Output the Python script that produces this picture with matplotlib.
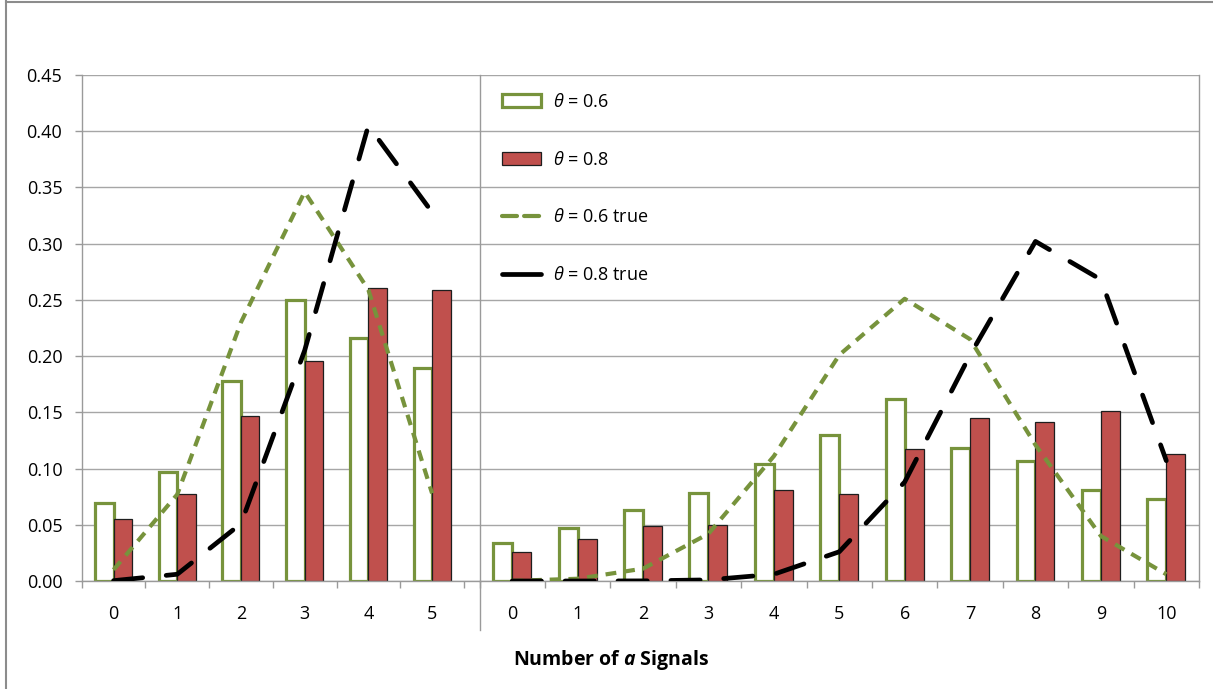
import matplotlib
matplotlib.use("Agg")
import matplotlib.pyplot as plt
from matplotlib.lines import Line2D
import numpy as np

plt.rcParams['font.family'] = ['Open Sans', 'DejaVu Sans']
plt.rcParams['mathtext.fontset'] = 'custom'
plt.rcParams['mathtext.rm'] = 'Open Sans'
plt.rcParams['mathtext.it'] = 'Open Sans:italic'
plt.rcParams['mathtext.bf'] = 'Open Sans:bold'
plt.rcParams['mathtext.bfit'] = 'Open Sans:bold:italic'

# ---- data -------------------------------------------------------------
signals_n5 = [0, 1, 2, 3, 4, 5]
signals_n10 = [0, 1, 2, 3, 4, 5, 6, 7, 8, 9, 10]

est_06_n5 = [0.069, 0.097, 0.178, 0.250, 0.216, 0.189]
est_08_n5 = [0.055, 0.077, 0.147, 0.196, 0.261, 0.259]
true_06_n5 = [0.010, 0.077, 0.230, 0.346, 0.259, 0.078]
true_08_n5 = [0.0003, 0.006, 0.051, 0.205, 0.405, 0.328]

est_06_n10 = [0.034, 0.047, 0.063, 0.078, 0.104, 0.130, 0.162, 0.118, 0.107, 0.081, 0.073]
est_08_n10 = [0.026, 0.037, 0.049, 0.050, 0.081, 0.077, 0.117, 0.145, 0.141, 0.151, 0.113]
true_06_n10 = [0.0001, 0.002, 0.011, 0.042, 0.111, 0.201, 0.251, 0.215, 0.121, 0.040, 0.006]
true_08_n10 = [0.0000, 0.0000, 0.0001, 0.001, 0.006, 0.026, 0.088, 0.201, 0.302, 0.268, 0.107]

y_ticks = [0.00, 0.05, 0.10, 0.15, 0.20, 0.25, 0.30, 0.35, 0.40, 0.45]

labels = [r"$\theta$ = 0.6", r"$\theta$ = 0.8",
          r"$\theta$ = 0.6 true", r"$\theta$ = 0.8 true"]
x_title = r"Number of $\mathbfit{a}$ Signals"

# ---- style --------------------------------------------------------------
GREEN = "#77933C"
RED = "#C0504D"
GRID = "#A6A6A6"
AXIS = "#9A9A9A"
FS = 13

W, H = 1213, 689
fig = plt.figure(figsize=(W / 100, H / 100), dpi=100)

x0, xsep, x1 = 81.7, 479.5, 1199.0
ybot, ytop = 581.0, 75.0
cat_w1 = 63.7

ax1 = fig.add_axes([x0 / W, (H - ybot) / H, (xsep - x0) / W, (ybot - ytop) / H])
ax2 = fig.add_axes([xsep / W, (H - ybot) / H, (x1 - xsep) / W, (ybot - ytop) / H])

bw = 0.29


def draw_group(ax, cats, est06, est08, tr06, tr08):
    cats = np.asarray(cats, dtype=float)
    b1 = ax.bar(cats - bw / 2, est06, width=bw, facecolor="white",
                edgecolor=GREEN, linewidth=2.3, zorder=2)
    b2 = ax.bar(cats + bw / 2, est08, width=bw, facecolor=RED,
                edgecolor="#1E1E1E", linewidth=0.9, zorder=2)
    l1, = ax.plot(cats, tr06, color=GREEN, lw=3.0, ls=(0, (2.6, 1.9)),
                  dash_capstyle="butt", zorder=3)
    l2, = ax.plot(cats, tr08, color="black", lw=3.4, ls=(0, (6.2, 5.0)),
                  dash_capstyle="round", solid_capstyle="round", zorder=4)
    return b1, b2, l1, l2


h = draw_group(ax1, signals_n5, est_06_n5, est_08_n5, true_06_n5, true_08_n5)
draw_group(ax2, signals_n10, est_06_n10, est_08_n10, true_06_n10, true_08_n10)

ax1.set_xlim(-0.5, -0.5 + (xsep - x0) / cat_w1)
ax2.set_xlim(-0.5, len(signals_n10) - 0.5)

for ax, cats in ((ax1, signals_n5), (ax2, signals_n10)):
    ax.set_ylim(0, 0.45)
    ax.set_yticks(y_ticks)
    ax.yaxis.grid(True, color=GRID, lw=1.0, zorder=0)
    ax.set_axisbelow(True)
    ax.set_xticks(cats)
    ax.set_xticklabels([str(c) for c in cats], fontsize=FS)
    ax.set_xticks(np.arange(-0.5, len(cats), 1.0), minor=True)
    ax.tick_params(axis="x", which="major", length=0, pad=17)
    ax.tick_params(axis="x", which="minor", length=5, width=1.0,
                   color=AXIS, direction="out")
    ax.spines["top"].set_visible(False)
    for s in ("left", "right", "bottom"):
        ax.spines[s].set_color(AXIS)
        ax.spines[s].set_linewidth(1.0)

ax1.spines["right"].set_visible(False)
ax1.set_yticklabels([f"{v:.2f}" for v in y_ticks], fontsize=FS)
ax1.tick_params(axis="y", length=5, width=1.0, color=AXIS, pad=9)

ax2.tick_params(axis="y", length=0, labelleft=False)
# separator between the two panels, running down past the axis
ax2.plot([0, 0], [0, -49 / (ybot - ytop)], transform=ax2.transAxes,
         color=AXIS, lw=1.0, clip_on=False)

fig.text(611 / W, 1 - 660 / H, x_title, fontsize=14, fontweight="bold",
         ha="center", va="center")

# legend keys: the line keys use shorter dash patterns so they read clearly
key_green = Line2D([], [], color=GREEN, lw=3.0, ls=(0, (3.6, 1.7)),
                   dash_capstyle="round")
key_black = Line2D([], [], color="black", lw=3.4, solid_capstyle="round")
handles = [h[0], h[1], key_green, key_black]

leg = ax2.legend(handles, labels, loc="upper left",
                 bbox_to_anchor=(502 / W, 1 - 93 / H),
                 bbox_transform=fig.transFigure, frameon=False,
                 fontsize=FS, borderpad=0, borderaxespad=0,
                 handlelength=2.15, handleheight=0.75, handletextpad=0.7,
                 labelspacing=2.2)

# outer frame of the chart area
fig.add_artist(Line2D([6 / W, 6 / W], [0, 1], color="#8C8C8C", lw=1.5))
fig.add_artist(Line2D([6 / W, 1], [1 - 1.5 / H, 1 - 1.5 / H],
                      color="#8C8C8C", lw=1.5))

fig.savefig("out.png", dpi=100, facecolor="white")
